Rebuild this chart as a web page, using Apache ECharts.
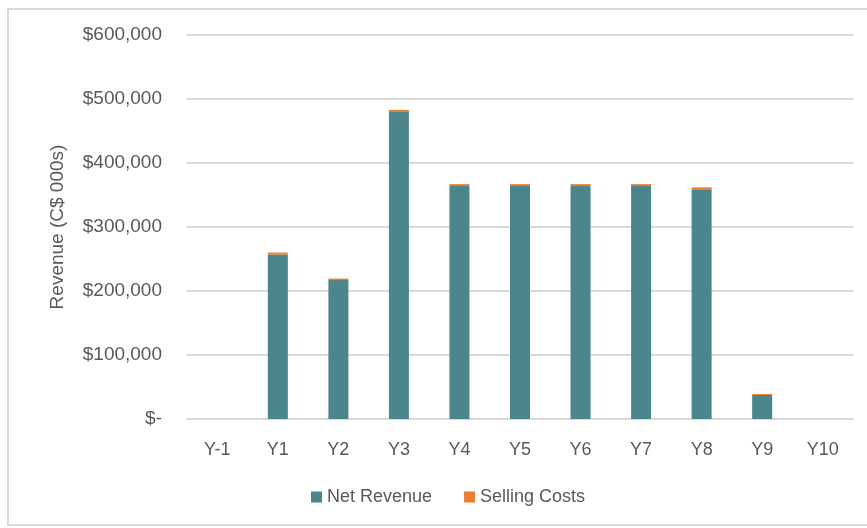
<!DOCTYPE html>
<html>
<head>
<meta charset="utf-8">
<script src="https://cdn.jsdelivr.net/npm/echarts@6/dist/echarts.min.js"></script>
<style>
  html, body { margin: 0; padding: 0; background: #ffffff; }
  #frame { position: absolute; left: 7px; top: 8px; width: 880px; height: 518px;
           border: 2px solid #d9d9d9; box-sizing: border-box; }
  #chart { position: absolute; left: 0; top: 0; width: 867px; height: 528px; }
</style>
</head>
<body>
<div id="frame"></div>
<div id="chart"></div>
<script>
// Project years
const years = ['Y-1', 'Y1', 'Y2', 'Y3', 'Y4', 'Y5', 'Y6', 'Y7', 'Y8', 'Y9', 'Y10'];
// Net revenue per year
const netRevenue = [0, 257000, 217000, 479500, 364000, 364000, 364000, 364000, 359000, 37500, 0];
// Selling costs per year (stacked on top of net revenue)
const sellingCosts = [0, 3000, 2500, 3500, 3000, 3000, 3000, 3000, 3000, 1500, 0];

const textColor = '#595959';
const fontFamily = '"Liberation Sans", Arial, sans-serif';

function fmtMoney(v) {
  if (v === 0) return '$-';
  return '$' + v.toLocaleString('en-US');
}

const chart = echarts.init(document.getElementById('chart'));
chart.setOption({
  animation: false,
  grid: { left: 187, right: 14, top: 35, bottom: 109, containLabel: false },
  legend: {
    bottom: 17,
    left: 306,
    itemWidth: 11,
    itemHeight: 11,
    itemGap: 32,
    icon: 'rect',
    textStyle: { color: textColor, fontSize: 18, fontFamily: fontFamily },
    data: ['Net Revenue', 'Selling Costs']
  },
  xAxis: {
    type: 'category',
    data: years,
    axisLine: { lineStyle: { color: '#d9d9d9', width: 2 } },
    axisTick: { show: false },
    axisLabel: { color: textColor, fontSize: 18, fontFamily: fontFamily, margin: 22 }
  },
  yAxis: {
    type: 'value',
    min: 0,
    max: 600000,
    interval: 100000,
    name: 'Revenue (C$ 000s)',
    nameLocation: 'middle',
    nameGap: 120,
    nameTextStyle: { color: textColor, fontSize: 19, fontFamily: fontFamily },
    axisLine: { show: false },
    axisTick: { show: false },
    splitLine: { lineStyle: { color: '#d9d9d9', width: 2 } },
    axisLabel: { color: textColor, fontSize: 19, fontFamily: fontFamily, margin: 25,
                 formatter: fmtMoney }
  },
  series: [
    {
      name: 'Net Revenue',
      type: 'bar',
      stack: 'rev',
      data: netRevenue,
      barWidth: 20,
      itemStyle: { color: '#4a868c' }
    },
    {
      name: 'Selling Costs',
      type: 'bar',
      stack: 'rev',
      data: sellingCosts,
      barWidth: 20,
      itemStyle: { color: '#ed7d31' }
    }
  ]
});
</script>
</body>
</html>
